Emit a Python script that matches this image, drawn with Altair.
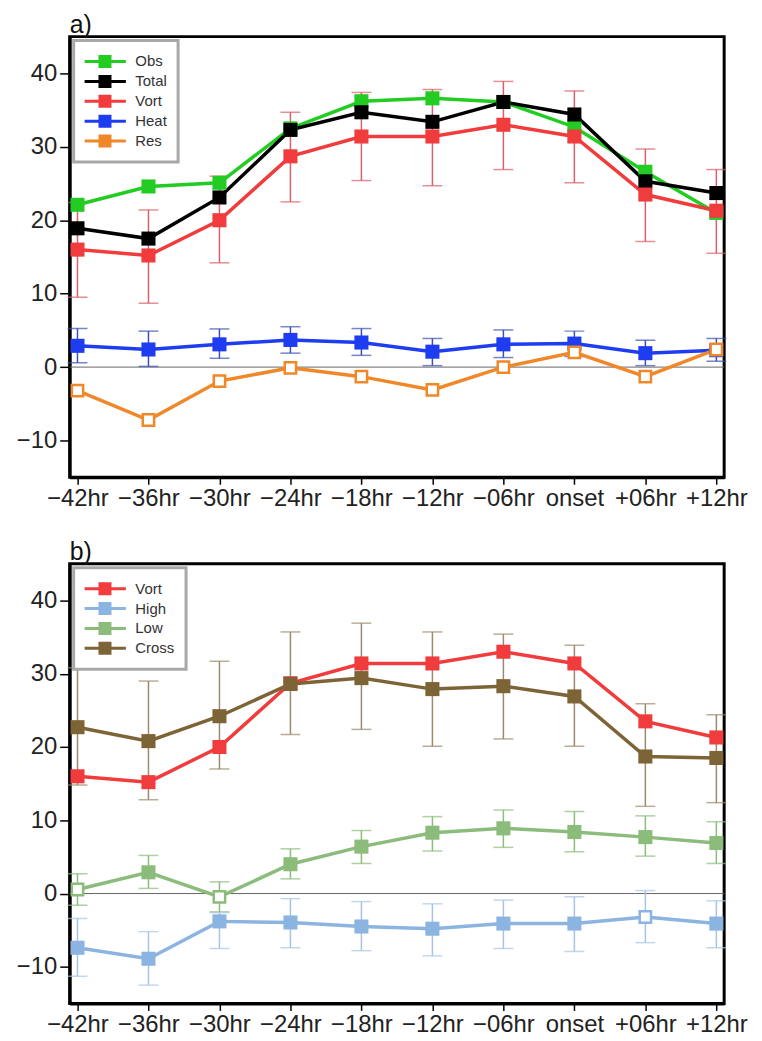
import altair as alt
import pandas as pd

cats = ["−42hr", "−36hr", "−30hr", "−24hr", "−18hr", "−12hr", "−06hr", "onset", "+06hr", "+12hr"]

# ---- panel a ----
obs = [22.1, 24.6, 25.1, 32.5, 36.2, 36.6, 36.1, 32.7, 26.6, 21.0]
total = [18.9, 17.5, 23.1, 32.3, 34.7, 33.4, 36.1, 34.4, 25.3, 23.7]
vort = [16.0, 15.2, 20.0, 28.7, 31.4, 31.4, 33.0, 31.4, 23.5, 21.3]
vort_lo = [9.5, 8.7, 14.2, 22.5, 25.4, 24.7, 26.9, 25.1, 17.1, 15.5]
vort_hi = [22.4, 21.4, 26.0, 34.7, 37.4, 37.8, 38.9, 37.6, 29.7, 26.9]
heat = [2.9, 2.4, 3.1, 3.7, 3.35, 2.1, 3.1, 3.2, 1.9, 2.3]
heat_lo = [0.6, 0.1, 1.2, 1.9, 1.6, 0.2, 1.3, 1.45, 0.2, 0.8]
heat_hi = [5.25, 4.9, 5.2, 5.5, 5.25, 3.9, 5.06, 4.9, 3.66, 3.9]
res = [-3.2, -7.2, -1.9, -0.1, -1.3, -3.1, 0.0, 2.0, -1.3, 2.4]
res_open = [True] * 10

# ---- panel b ----
cross = [22.7, 20.8, 24.2, 28.6, 29.4, 27.9, 28.3, 26.9, 18.7, 18.5]
cross_lo = [14.8, 12.8, 17.0, 21.7, 22.4, 20.1, 21.1, 20.1, 11.9, 12.4]
cross_hi = [30.8, 29.0, 31.7, 35.7, 36.9, 35.7, 35.4, 33.9, 25.9, 24.4]
low = [0.55, 2.9, -0.45, 4.0, 6.4, 8.3, 8.9, 8.4, 7.7, 6.9]
low_lo = [-1.6, 0.7, -2.5, 2.0, 4.1, 5.8, 6.3, 5.7, 5.1, 4.1]
low_hi = [2.7, 5.2, 1.6, 6.1, 8.6, 10.5, 11.4, 11.2, 10.6, 9.8]
low_open = [True, False, True, False, False, False, False, False, False, False]
high = [-7.4, -8.9, -3.8, -3.95, -4.5, -4.8, -4.1, -4.1, -3.2, -4.1]
high_lo = [-11.3, -12.5, -7.5, -7.4, -7.8, -8.5, -7.5, -7.9, -6.7, -7.4]
high_hi = [-3.4, -5.2, -2.6, -0.7, -1.1, -1.4, -0.9, -0.45, 0.4, -1.0]
high_open = [False, False, False, False, False, False, False, False, True, False]

FONT = "Liberation Sans"
LEG_PATH = "M-1,0L1,0M-0.24,-0.24L0.24,-0.24L0.24,0.24L-0.24,0.24Z"


def panel(series, colors, opens, errs, err_colors, label, w=658, h=443):
    names = list(series.keys())
    rows = []
    for n in names:
        op = opens.get(n, [False] * len(cats))
        for i, c in enumerate(cats):
            rows.append({"cat": c, "series": n, "value": series[n][i], "hollow": op[i]})
    df = pd.DataFrame(rows)
    erows = []
    for n, (lo, hi) in errs.items():
        for i, c in enumerate(cats):
            erows.append({"cat": c, "series": n + " err", "lo": lo[i], "hi": hi[i]})
    edf = pd.DataFrame(erows)

    dom = names + [n + " err" for n in errs]
    rng = [colors[n] for n in names] + [err_colors[n] for n in errs]
    cscale = alt.Scale(domain=dom, range=rng)
    legend = alt.Legend(title=None, orient="top-left", offset=4, values=names,
                        symbolType=LEG_PATH, symbolSize=1764, symbolStrokeWidth=3,
                        symbolOpacity=1, clipHeight=20, rowPadding=0,
                        labelFontSize=15, labelFont=FONT, labelColor="#333333",
                        labelOffset=8, padding=11, symbolOffset=-2)
    color = alt.Color("series:N", scale=cscale, legend=legend)

    xenc = alt.X("cat:N", sort=cats, scale=alt.Scale(type="point", padding=0.11),
                 axis=alt.Axis(title=None, labelAngle=0, tickSize=7, labelPadding=2))
    yscale = alt.Scale(domain=[-15, 45], nice=False, zero=False)
    yaxis = alt.Axis(title=None, values=[-10, 0, 10, 20, 30, 40], tickSize=10, labelPadding=3)

    zero = alt.Chart(pd.DataFrame({"z": [0]})).mark_rule(color="#666666", strokeWidth=1).encode(
        y=alt.Y("z:Q", scale=yscale, axis=yaxis))

    ebase = alt.Chart(edf).encode(x=xenc, color=color)
    erule = ebase.mark_rule(strokeWidth=1.5).encode(y=alt.Y("lo:Q", scale=yscale), y2="hi:Q")
    etick_lo = ebase.mark_tick(size=20, thickness=1.5, orient="horizontal").encode(y=alt.Y("lo:Q", scale=yscale))
    etick_hi = ebase.mark_tick(size=20, thickness=1.5, orient="horizontal").encode(y=alt.Y("hi:Q", scale=yscale))

    base = alt.Chart(df).encode(x=xenc, y=alt.Y("value:Q", scale=yscale, axis=yaxis), color=color)
    lines = base.mark_line(strokeWidth=3.5).encode(detail="series:N")
    filled = base.transform_filter("!datum.hollow").mark_point(
        shape="square", filled=True, size=200, opacity=1)
    hollow = base.transform_filter("datum.hollow").mark_point(
        shape="square", filled=False, fill="white", size=130, strokeWidth=2.5, opacity=1)

    return alt.layer(zero, erule, etick_lo, etick_hi, lines, filled, hollow).properties(
        width=w, height=h,
        title=alt.TitleParams(label, anchor="start", frame="group", fontSize=25, font=FONT,
                              fontWeight="normal", offset=-1, color="#111111"))


pa = panel(
    {"Obs": obs, "Total": total, "Vort": vort, "Heat": heat, "Res": res},
    {"Obs": "#22cc22", "Total": "#000000", "Vort": "#f03c3c", "Heat": "#1e3cf0", "Res": "#f0882a"},
    {"Res": res_open},
    {"Vort": (vort_lo, vort_hi), "Heat": (heat_lo, heat_hi)},
    {"Vort": "#d8606a", "Heat": "#3c50b4"},
    "a)",
)
pb = panel(
    {"Vort": vort, "High": high, "Low": low, "Cross": cross},
    {"Vort": "#f03c3c", "High": "#8cb4e0", "Low": "#8cbc7c", "Cross": "#7d6436"},
    {"Low": low_open, "High": high_open},
    {"Cross": (cross_lo, cross_hi), "Low": (low_lo, low_hi), "High": (high_lo, high_hi)},
    {"Cross": "#9c8a6c", "Low": "#8cbc7c", "High": "#a8c4e4"},
    "b)",
    h=442,
)

chart = alt.vconcat(pa, pb, spacing=26).resolve_scale(color="independent").properties(
    padding={"top": 0, "left": 6, "right": 5, "bottom": 5}
).configure_view(stroke="black", strokeWidth=3).configure_axis(
    domainColor="black", domainWidth=3, tickColor="black", tickWidth=1.5, grid=False,
    labelFont=FONT, labelFontSize=24, labelColor="#222222"
).configure_legend(strokeColor="#a8a8a8", strokeWidth=3, fillColor="white")

chart.save("out.html", embed_options={"renderer": "svg", "actions": False})
